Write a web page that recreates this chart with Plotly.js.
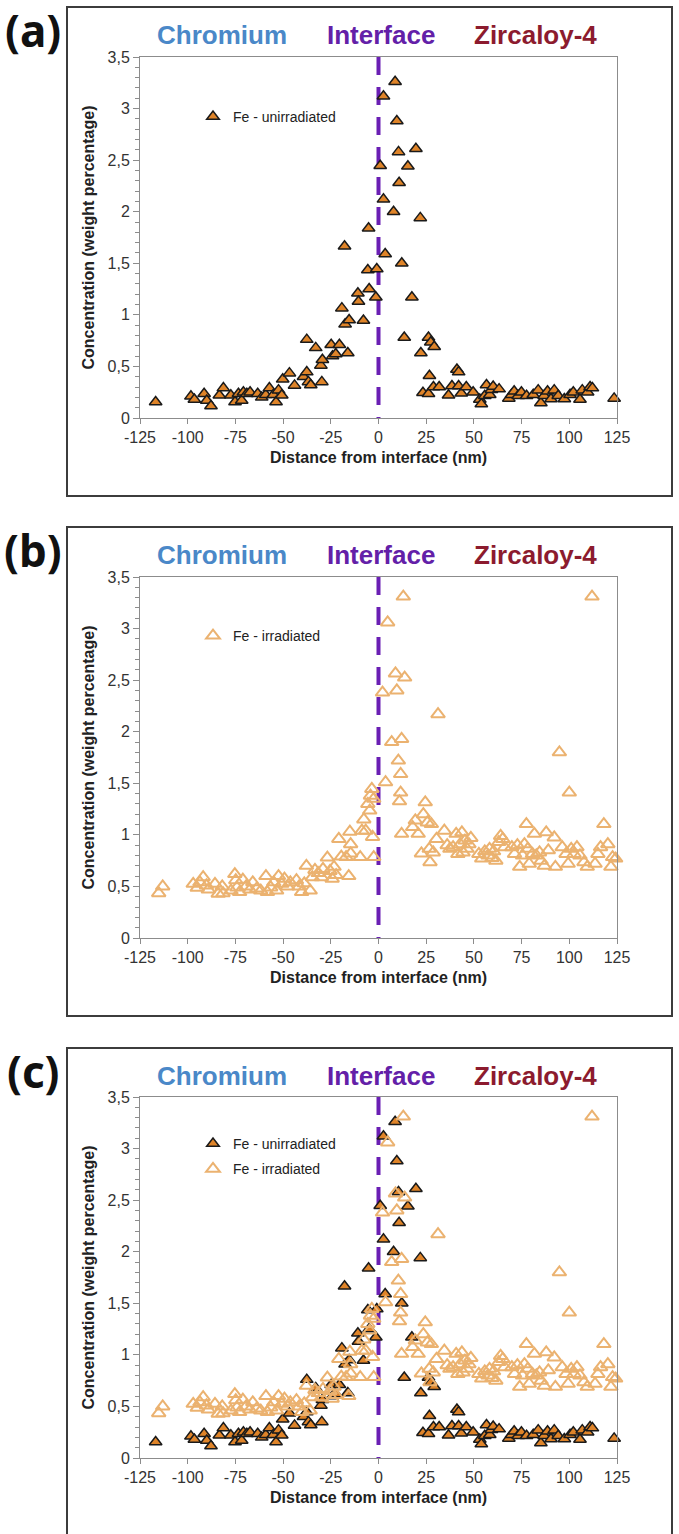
<!DOCTYPE html>
<html><head><meta charset="utf-8">
<script src="https://cdn.plot.ly/plotly-3.0.1.min.js"></script>
<style>html,body{margin:0;padding:0;background:#fff}#chart{width:679px;height:1534px}</style>
</head><body><div id="chart"></div>
<script>
// ---------- DATA ----------
const seriesNames = ['Fe - unirradiated', 'Fe - irradiated'];
const regionLabels = ['Chromium', 'Interface', 'Zircaloy-4'];
const panelLabels = ['(a)', '(b)', '(c)'];
const xTitle = 'Distance from interface (nm)';
const yTitle = 'Concentration (weight percentage)';
const xTickVals = [-125, -100, -75, -50, -25, 0, 25, 50, 75, 100, 125];
const xTickText = ['-125', '-100', '-75', '-50', '-25', '0', '25', '50', '75', '100', '125'];
const interfaceX = [0, 0];
const interfaceY = [3.5, 0];

const unirrX = [
  -116.8, -98.3, -96.5, -91.4, -90, -87.8, -83.4, -81.3, -77.4, -75.2,
  -73.4, -71.7, -70.8, -69, -67.3, -63.3, -61.2, -59.1, -57.2, -55.1,
  -53.7, -52.4, -50.7, -50.2, -46.7, -44, -39.3, -37.6, -36.7, -35.5,
  -37.6, -32.9, -29.7, -30.2, -29.4, -24.8, -24.1, -22.4, -20.5, -16.1,
  -19.2, -17.5, -15.4, -17.8, -10.8, -10.5, -7.9, -5.6, -4.9, -5.2,
  -0.9, -1.4, 0.9, 2.6, 2.6, 3.5, 7.9, 8.7, 9.6, 10.5,
  10.8, 12.2, 13.5, 15.4, 17.5, 19.6, 21.9, 22.2, 26.2, 27.4,
  29.2, 23.3, 26.2, 26.7, 28.8, 31.8, 36.7, 38.5, 41.1, 42,
  42, 43.4, 46, 49.6, 53.1, 53.9, 55.7, 56.6, 58.3, 59.2,
  60.1, 63.2, 68.3, 69.7, 71.1, 73.2, 74.9, 77.6, 81.1, 83.7,
  85.1, 86.8, 88.6, 90.4, 92.1, 94.2, 97.4, 100.4, 102.1, 105.6,
  106.8, 109.6, 110.9, 112.1, 123.5
];
const unirrY = [
  0.155, 0.21, 0.18, 0.235, 0.17, 0.116, 0.22, 0.29, 0.22, 0.155,
  0.235, 0.17, 0.25, 0.235, 0.25, 0.235, 0.2, 0.225, 0.29, 0.225,
  0.155, 0.27, 0.22, 0.375, 0.435, 0.316, 0.4, 0.445, 0.35, 0.32,
  0.76, 0.68, 0.35, 0.51, 0.565, 0.71, 0.6, 0.62, 0.71, 0.63,
  1.065, 0.91, 0.95, 1.665, 1.21, 1.13, 0.945, 1.435, 1.25, 1.84,
  1.445, 1.17, 2.445, 3.12, 2.12, 1.59, 2.0, 3.26, 2.88, 2.58,
  2.28, 1.5, 0.78, 2.44, 1.17, 2.61, 1.94, 0.63, 0.78, 0.735,
  0.69, 0.245, 0.235, 0.41, 0.3, 0.3, 0.22, 0.31, 0.47, 0.445,
  0.31, 0.24, 0.3, 0.25, 0.18, 0.135, 0.215, 0.32, 0.225, 0.275,
  0.305, 0.28, 0.19, 0.225, 0.26, 0.215, 0.25, 0.215, 0.225, 0.27,
  0.145, 0.215, 0.26, 0.185, 0.27, 0.215, 0.185, 0.225, 0.25, 0.18,
  0.27, 0.25, 0.30, 0.29, 0.19
];

const irrX = [
  -115.2, -113.1, -97.1, -95, -93.6, -91.9, -90.2, -89.2, -85.7, -84,
  -81.9, -81.5, -77.3, -75.3, -74.8, -74.2, -72.8, -71.1, -69.4, -67.4,
  -65.9, -63.8, -61.7, -59, -58.2, -56.5, -54.9, -53.4, -52.4, -50.7,
  -49.3, -47.8, -46.2, -43, -41.6, -40.3, -38.9, -37.8, -35.8, -34.7,
  -33.3, -31.6, -29.9, -29.1, -26.8, -25.4, -24.3, -23.3, -22.2, -20.8,
  -19.5, -17, -15.6, -15, -14.6, -14.6, -9.6, -8.7, -7.7, -6.7,
  -5.6, -4.6, -4.2, -3.5, -3.1, -2.5, -2.5,
  3.7, 2.1, 4.8, 6.9, 8.9, 9.6, 10.4, 11.6, 12.1, 11.6,
  11, 12.1, 13.7, 13, 17.9, 19.3, 20.8, 22.5, 23.5, 24.5,
  25.6, 26.6, 27, 27.7, 28.7, 30.4, 31.2, 34.5, 36, 37.4,
  39.1, 40.7, 41.6, 42.8, 43.7, 44.3, 45.3, 46.4, 47.4, 48.4,
  52.6, 54.1, 55.7, 57.4, 58.2, 59.5, 60.3, 61.5, 63, 64,
  65.1, 66.1, 69.9, 71.3, 72.8, 74, 75.5, 76.5, 77.5, 78.2,
  79, 80.7, 81.7, 82.7, 84.4, 85.2, 86.9, 87.9, 89, 92.1,
  92.7, 94.8, 96.3, 98.3, 99.4, 100, 101, 102.5, 104, 105.6,
  107.7, 109.4, 111.9, 113.5, 115, 116.4, 118.1, 120.2, 121.8, 122.7,
  124.3
];
const irrY = [
  0.435, 0.5, 0.525, 0.487, 0.54, 0.59, 0.51, 0.47, 0.525, 0.43,
  0.5, 0.435, 0.46, 0.62, 0.56, 0.49, 0.445, 0.565, 0.5, 0.47,
  0.54, 0.48, 0.46, 0.6, 0.445, 0.49, 0.54, 0.46, 0.6, 0.525,
  0.575, 0.5, 0.54, 0.56, 0.5, 0.445, 0.53, 0.7, 0.46, 0.59,
  0.66, 0.63, 0.59, 0.67, 0.78, 0.65, 0.575, 0.69, 0.61, 0.96,
  0.79, 0.785, 0.6, 1.03, 0.91, 0.82, 0.785, 1.04, 1.15, 1.04,
  1.3, 1.235, 1.38, 1.445, 0.98, 0.785, 1.35,
  1.51, 2.38, 3.06, 1.9, 2.565, 2.4, 1.72, 1.59, 1.93, 1.41,
  1.325, 1.01, 2.525, 3.31, 1.075, 1.14, 1.01, 0.82, 1.2, 1.315,
  1.12, 0.865, 0.735, 1.105, 0.83, 0.96, 2.17, 1.04, 0.9, 0.865,
  0.88, 1.01, 0.815, 0.91, 1.025, 0.83, 0.945, 0.865, 0.91, 0.97,
  0.815, 0.77, 0.84, 0.8, 0.865, 0.775, 0.84, 0.75, 0.93, 0.99,
  0.96, 0.88, 0.88, 0.815, 0.9, 0.69, 0.8, 0.91, 1.105, 0.865,
  0.72, 0.815, 1.01, 0.8, 0.83, 0.75, 0.7, 1.025, 0.85, 0.975,
  0.69, 1.8, 0.88, 0.815, 0.72, 1.41, 0.865, 0.815, 0.88, 0.8,
  0.735, 0.69, 3.31, 0.72, 0.815, 0.88, 1.105, 0.91, 0.69, 0.785,
  0.77
];

// ---------- LAYOUT GEOMETRY (pixels) ----------
const W = 679, H = 1534;
const plotLeft = 140, plotRight = 617;
const boxLeft = 67, boxRight = 672;
const panels = [
  {boxTop: 7, boxBottom: 496, plotTop: 57, plotBottom: 418, legendTop: 101},
  {boxTop: 527, boxBottom: 1016, plotTop: 577, plotBottom: 938, legendTop: 620},
  {boxTop: 1048, boxBottom: 1560, plotTop: 1097, plotBottom: 1458, legendTop: 1128}
];
const fx = px => px / W;
const fy = py => 1 - py / H;

const FONT = 'Liberation Sans, Arial, sans-serif';
const AXC = '#8c8c8c';
const colUn = '#df8429';
const colIrr = '#ebb270';
const regionColors = ['#4a88c8', '#6320a8', '#8c1b2e'];
const regionX = [222, 381, 535];

const layout = {
  width: W, height: H,
  margin: {l: 0, r: 0, t: 0, b: 0},
  paper_bgcolor: '#ffffff', plot_bgcolor: '#ffffff',
  separators: ', ',
  showlegend: true,
  shapes: [], annotations: []
};

panels.forEach((p, i) => {
  const s = i === 0 ? '' : String(i + 1);
  layout['xaxis' + s] = {
    domain: [fx(plotLeft), fx(plotRight)], anchor: 'y' + s,
    range: [-125, 125], tickmode: 'array', tickvals: xTickVals, ticktext: xTickText,
    ticks: 'outside', ticklen: 5, tickcolor: AXC, showline: true, linecolor: AXC,
    linewidth: 1, mirror: true, showgrid: false, zeroline: false, fixedrange: true,
    tickfont: {family: FONT, size: 16, color: '#333'},
    title: {text: '<b>' + xTitle + '</b>', font: {family: FONT, size: 16, color: '#222'}, standoff: 6}
  };
  layout['yaxis' + s] = {
    domain: [fy(p.plotBottom), fy(p.plotTop)], anchor: 'x' + s,
    range: [0, 3.5], tickmode: 'linear', tick0: 0, dtick: 0.5,
    ticks: 'outside', ticklen: 6, tickcolor: AXC, showline: true, linecolor: AXC,
    linewidth: 1, mirror: true, showgrid: false, zeroline: false, fixedrange: true,
    minor: {ticks: 'outside', ticklen: 4, tickcolor: AXC, dtick: 0.1, tick0: 0, showgrid: false},
    tickfont: {family: FONT, size: 16, color: '#333'},
    title: {text: '<b>' + yTitle + '</b>', font: {family: FONT, size: 16, color: '#222'}, standoff: 8}
  };
  const lg = i === 0 ? 'legend' : 'legend' + (i + 1);
  layout[lg] = {
    x: fx(193), y: fy(p.legendTop), xanchor: 'left', yanchor: 'top',
    bgcolor: 'rgba(0,0,0,0)', borderwidth: 0, itemwidth: 30,
    font: {family: FONT, size: 14, color: '#222'}, traceorder: 'grouped', tracegroupgap: 4
  };
  layout.shapes.push({
    type: 'rect', xref: 'paper', yref: 'paper',
    x0: fx(boxLeft), x1: fx(boxRight), y0: fy(p.boxBottom), y1: fy(p.boxTop),
    line: {color: '#3c3c3c', width: 2}
  });
  layout.shapes.push({
    type: 'line', xref: 'x' + s, yref: 'y' + s, layer: 'below',
    x0: interfaceX[0], x1: interfaceX[1], y0: interfaceY[0], y1: interfaceY[1],
    line: {color: '#6a1fb4', width: 4, dash: '18px,12px'}
  });
  regionLabels.forEach((t, k) => {
    layout.annotations.push({
      xref: 'paper', yref: 'paper', x: fx(regionX[k]), y: fy(p.boxTop + 28),
      xanchor: 'center', yanchor: 'middle', showarrow: false,
      text: '<b>' + t + '</b>', font: {family: FONT, size: 26, color: regionColors[k]}
    });
  });
  layout.annotations.push({
    xref: 'paper', yref: 'paper', x: fx(33), y: fy(p.boxTop + 23),
    xanchor: 'center', yanchor: 'middle', showarrow: false,
    text: '<b>' + panelLabels[i] + '</b>', font: {family: 'Noto Sans, Open Sans, sans-serif', size: 44, color: '#111'}
  });
});

const unMarker = {symbol: 'triangle-up', size: 11, color: colUn, line: {color: '#1a1a1a', width: 1.5}};
const irrMarker = {symbol: 'triangle-up-open', size: 12, color: colIrr, line: {color: colIrr, width: 2}};

const traces = [
  {x: unirrX, y: unirrY, xaxis: 'x', yaxis: 'y', type: 'scatter', mode: 'markers', name: seriesNames[0], marker: unMarker, legend: 'legend', legendgroup: 'a1', cliponaxis: false},
  {x: irrX, y: irrY, xaxis: 'x2', yaxis: 'y2', type: 'scatter', mode: 'markers', name: seriesNames[1], marker: irrMarker, legend: 'legend2', legendgroup: 'b1', cliponaxis: false},
  {x: unirrX, y: unirrY, xaxis: 'x3', yaxis: 'y3', type: 'scatter', mode: 'markers', name: seriesNames[0], marker: unMarker, legend: 'legend3', legendgroup: 'c1', cliponaxis: false},
  {x: irrX, y: irrY, xaxis: 'x3', yaxis: 'y3', type: 'scatter', mode: 'markers', name: seriesNames[1], marker: irrMarker, legend: 'legend3', legendgroup: 'c2', cliponaxis: false}
];

Plotly.newPlot('chart', traces, layout, {displayModeBar: false, staticPlot: true});
</script>
</body></html>
